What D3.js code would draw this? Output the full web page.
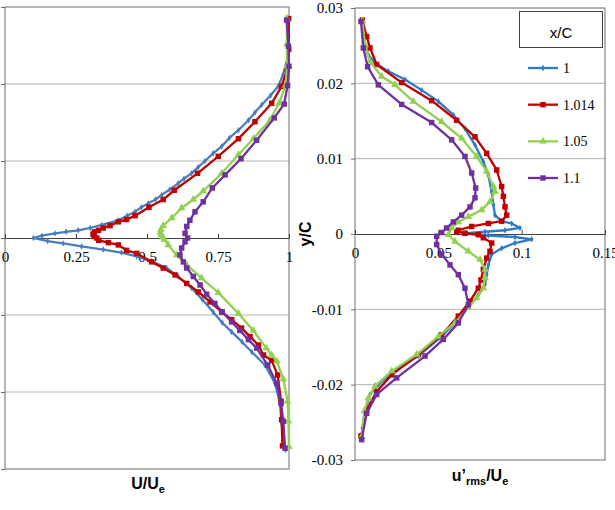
<!DOCTYPE html>
<html lang="en">
<head>
<meta charset="UTF-8">
<title>Wake profiles</title>
<style>
  body { margin: 0; background: #fff; }
  .title { font: bold 16px "Liberation Sans", Arial, sans-serif; fill: #000; }
  .grid { stroke: #b4b4b4; stroke-width: 1px; }
  .frame { fill: none; stroke: #6e6e6e; stroke-width: 1px; }
  .series { fill: none; stroke-width: 2.3px; stroke-linejoin: round; }
</style>
</head>
<body>
<svg width="615" height="510"></svg>
<script src="https://cdnjs.cloudflare.com/ajax/libs/d3/7.8.5/d3.min.js"></script>
<script>
// series labels (x/C stations)
const stations = ["1", "1.014", "1.05", "1.1"];
const colors = ["#4a7ebb", "#c00000", "#92d050", "#7030a0"];
const rmsBlue = "#2c7bcb";

const xTicksLeft = [0, 0.25, 0.5, 0.75, 1];
const xTicksRight = [0, 0.05, 0.1, 0.15];
const yTicks = [-0.03, -0.02, -0.01, 0, 0.01, 0.02, 0.03];

// mean velocity U/Ue vs y/C  : [U/Ue, y/C]
const meanX1 = [[0.999,0.0281],[0.999,0.0262],[0.998,0.0238],[0.979,0.0212],[0.962,0.0197],[0.935,0.0185],
  [0.904,0.0173],[0.88,0.0163],[0.857,0.0153],[0.822,0.014],[0.79,0.013],[0.763,0.0119],[0.733,0.011],
  [0.704,0.01],[0.68,0.0092],[0.657,0.0084],[0.63,0.0077],[0.61,0.0071],[0.58,0.0063],[0.552,0.0056],
  [0.53,0.005],[0.505,0.0045],[0.48,0.004],[0.458,0.0034],[0.43,0.0029],[0.399,0.0023],[0.34,0.0017],
  [0.3,0.0013],[0.258,0.001],[0.215,0.0008],[0.176,0.0006],[0.13,0.0003],[0.1,0],[0.15,-0.0004],
  [0.205,-0.0007],[0.27,-0.0011],[0.346,-0.0015],[0.41,-0.0019],[0.464,-0.0024],[0.515,-0.003],
  [0.569,-0.0039],[0.61,-0.005],[0.657,-0.0065],[0.695,-0.008],[0.733,-0.0096],[0.765,-0.011],
  [0.798,-0.0122],[0.835,-0.0135],[0.869,-0.0148],[0.915,-0.0165],[0.951,-0.0189],[0.968,-0.0215],
  [0.974,-0.024],[0.988,-0.0275]];
const meanX1014 = [[0.999,0.0285],[0.999,0.0245],[0.994,0.0219],[0.974,0.0197],[0.939,0.0175],[0.88,0.0151],
  [0.822,0.0129],[0.751,0.0106],[0.678,0.0084],[0.596,0.0062],[0.557,0.005],[0.507,0.004],[0.458,0.0029],
  [0.428,0.0024],[0.399,0.0021],[0.37,0.0016],[0.346,0.0013],[0.329,0.001],[0.315,0.0008],[0.31,0.0005],
  [0.314,0.0002],[0.323,0],[0.33,-0.0003],[0.364,-0.0006],[0.399,-0.0009],[0.428,-0.0016],[0.464,-0.002],
  [0.516,-0.0031],[0.557,-0.0039],[0.599,-0.0048],[0.64,-0.0059],[0.681,-0.007],[0.722,-0.0083],
  [0.763,-0.0096],[0.798,-0.0106],[0.833,-0.0117],[0.863,-0.0128],[0.892,-0.0139],[0.91,-0.0152],
  [0.939,-0.0159],[0.96,-0.0178],[0.972,-0.0212],[0.974,-0.0236],[0.977,-0.027]];
const meanX105 = [[0.992,0.0285],[0.993,0.0252],[0.993,0.0223],[0.988,0.0198],[0.965,0.0175],[0.933,0.0153],
  [0.874,0.0129],[0.822,0.0108],[0.763,0.0084],[0.698,0.0061],[0.663,0.005],[0.622,0.0039],[0.587,0.0026],
  [0.557,0.0016],[0.549,0.0011],[0.547,0.0007],[0.55,0.0004],[0.556,0.0001],[0.561,-0.0002],[0.575,-0.0009],
  [0.604,-0.0022],[0.64,-0.0035],[0.692,-0.0052],[0.751,-0.0071],[0.822,-0.0098],[0.874,-0.012],
  [0.92,-0.0143],[0.939,-0.0152],[0.957,-0.016],[0.98,-0.0183],[0.995,-0.0212],[0.998,-0.0238],[1.0,-0.0271]];
const meanX11 = [[0.992,0.0283],[0.998,0.0249],[1.0,0.0223],[0.995,0.0198],[0.983,0.0174],[0.948,0.0156],
  [0.886,0.0127],[0.831,0.0103],[0.775,0.0082],[0.73,0.0065],[0.698,0.0047],[0.669,0.0034],[0.651,0.0023],
  [0.64,0.0015],[0.634,0.0006],[0.643,0],[0.634,-0.0005],[0.622,-0.0013],[0.616,-0.0022],[0.628,-0.0031],
  [0.64,-0.0039],[0.663,-0.005],[0.687,-0.0061],[0.71,-0.0073],[0.739,-0.0085],[0.765,-0.0096],
  [0.798,-0.0109],[0.827,-0.012],[0.857,-0.0132],[0.886,-0.0143],[0.925,-0.0165],[0.957,-0.0189],
  [0.972,-0.0215],[0.98,-0.0238],[0.986,-0.0273]];

// rms fluctuation u'rms/Ue vs y/C : [u'/Ue, y/C]
const rmsX1 = [[0.004,0.0283],[0.005,0.0255],[0.008,0.0238],[0.012,0.0227],[0.02,0.0216],[0.03,0.0205],
  [0.04,0.0191],[0.05,0.0176],[0.059,0.0158],[0.066,0.014],[0.072,0.0118],[0.077,0.0096],[0.08,0.0078],
  [0.082,0.0056],[0.083,0.0039],[0.084,0.0025],[0.088,0.0017],[0.094,0.0014],[0.099,0.0008],[0.09,0.0005],
  [0.078,0.0003],[0.067,0.0001],[0.08,-0.0002],[0.096,-0.0004],[0.106,-0.0007],[0.096,-0.0012],
  [0.088,-0.0019],[0.082,-0.0027],[0.08,-0.0041],[0.079,-0.0054],[0.078,-0.0067],[0.074,-0.0081],
  [0.068,-0.0096],[0.06,-0.0118],[0.051,-0.0138],[0.038,-0.0162],[0.022,-0.0185],[0.014,-0.02],
  [0.009,-0.0213],[0.006,-0.0235],[0.0044,-0.0258],[0.004,-0.0272]];
const rmsX1014 = [[0.0044,0.0284],[0.007,0.0262],[0.009,0.0247],[0.013,0.0225],[0.028,0.0201],[0.046,0.0177],
  [0.061,0.0151],[0.072,0.0129],[0.079,0.0107],[0.085,0.0085],[0.088,0.0063],[0.089,0.005],[0.09,0.0036],
  [0.091,0.0025],[0.088,0.0017],[0.08,0.0014],[0.07,0.001],[0.062,0.0005],[0.061,0.0003],[0.066,0.0001],
  [0.074,-0.0001],[0.077,-0.0005],[0.082,-0.0012],[0.081,-0.0023],[0.079,-0.0032],[0.077,-0.0047],
  [0.0756,-0.0061],[0.074,-0.0072],[0.069,-0.0089],[0.062,-0.0109],[0.052,-0.0134],[0.038,-0.016],
  [0.022,-0.0187],[0.013,-0.0209],[0.007,-0.0233],[0.0036,-0.0268]];
const rmsX105 = [[0.0044,0.0283],[0.006,0.0251],[0.009,0.0229],[0.016,0.0209],[0.024,0.0198],[0.035,0.0176],
  [0.052,0.0149],[0.064,0.0127],[0.073,0.0103],[0.079,0.0083],[0.083,0.0063],[0.084,0.0056],[0.081,0.0043],
  [0.076,0.0032],[0.068,0.0023],[0.062,0.0016],[0.058,0.0008],[0.056,-0.0001],[0.06,-0.001],[0.068,-0.0023],
  [0.075,-0.0034],[0.078,-0.0047],[0.078,-0.0058],[0.077,-0.0072],[0.073,-0.0085],[0.068,-0.0098],
  [0.06,-0.0118],[0.05,-0.0136],[0.037,-0.016],[0.022,-0.0182],[0.012,-0.0202],[0.008,-0.0218],
  [0.0056,-0.0235],[0.004,-0.0269]];
const rmsX11 = [[0.0036,0.0282],[0.005,0.0247],[0.0076,0.0222],[0.014,0.0198],[0.028,0.0172],[0.046,0.0148],
  [0.058,0.0125],[0.066,0.0103],[0.07,0.0081],[0.0724,0.0061],[0.072,0.0048],[0.069,0.0036],[0.064,0.0025],
  [0.059,0.0016],[0.055,0.0008],[0.052,0.0002],[0.049,-0.0003],[0.049,-0.0014],[0.052,-0.0027],
  [0.057,-0.0041],[0.062,-0.0054],[0.066,-0.0072],[0.068,-0.0094],[0.062,-0.0118],[0.053,-0.014],
  [0.042,-0.0162],[0.025,-0.0191],[0.013,-0.0213],[0.007,-0.0238],[0.004,-0.0273]];

const meanSeries = [meanX1, meanX1014, meanX105, meanX11];
const rmsSeries = [rmsX1, rmsX1014, rmsX105, rmsX11];
const symbols = [d3.symbolDiamond, d3.symbolSquare, d3.symbolTriangle, d3.symbolSquare];
const symSizes = [12, 30, 26, 30];

const tickFont = "15px 'Liberation Serif', 'Times New Roman', serif";

const svg = d3.select("svg");

const fmtY = d => d === 0 ? "0" : String(+d.toFixed(2));
const fmtX = d => d === 0 ? "0" : String(+d.toFixed(2));

function panel(x, y, series, xTicks, showYLabels, blue) {
  const [x0, x1] = x.range(), [y1, y0] = y.range();
  const g = svg.append("g");

  // horizontal gridlines
  g.selectAll("line.grid").data(yTicks.filter(t => t !== 0 && Math.abs(t) < 0.03)).join("line")
    .attr("class", "grid")
    .attr("x1", x0).attr("x2", x1)
    .attr("y1", d => y(d)).attr("y2", d => y(d));

  g.append("rect").attr("class", "frame")
    .attr("x", x0).attr("y", y0).attr("width", x1 - x0).attr("height", y1 - y0);

  // y axis on left edge
  const ya = d3.axisLeft(y).tickValues(yTicks).tickSize(4).tickPadding(8)
    .tickFormat(showYLabels ? fmtY : () => "");
  g.append("g").attr("transform", `translate(${x0},0)`).call(ya)
    .call(s => s.select(".domain").remove())
    .call(s => s.selectAll(".tick line").attr("stroke", "#6e6e6e"))
    .call(s => s.selectAll("text").style("font", tickFont).attr("fill", "#000"));

  // x axis along y = 0
  const xa = d3.axisBottom(x).tickValues(xTicks).tickSize(-4).tickPadding(13).tickFormat(fmtX);
  g.append("g").attr("transform", `translate(0,${y(0)})`).call(xa)
    .call(s => s.select(".domain").attr("stroke", "#404040"))
    .call(s => s.selectAll(".tick line").attr("stroke", "#404040"))
    .call(s => s.selectAll("text").style("font", tickFont).attr("fill", "#000"));

  const line = d3.line().x(d => x(d[0])).y(d => y(d[1]));
  series.forEach((data, i) => {
    const c = (i === 0 && blue) ? blue : colors[i];
    g.append("path").attr("class", "series").attr("stroke", c)
      .attr("stroke-width", i === 0 ? 2 : 2.3).attr("d", line(data));
    g.selectAll(null).data(data).join("path")
      .attr("transform", d => `translate(${x(d[0])},${y(d[1])})`)
      .attr("d", d3.symbol(symbols[i], symSizes[i]))
      .attr("fill", c);
  });
}

// left: mean velocity
const xL = d3.scaleLinear([0, 1], [5, 289]);
const yL = d3.scaleLinear([-0.03, 0.03], [469, 7]);
panel(xL, yL, meanSeries, xTicksLeft, false, null);

// right: rms
const xR = d3.scaleLinear([0, 0.15], [355, 605]);
const yR = d3.scaleLinear([-0.03, 0.03], [460, 8]);
panel(xR, yR, rmsSeries, xTicksRight, true, rmsBlue);

// axis titles
const tL = svg.append("text").attr("class", "title").attr("x", 148).attr("y", 489).attr("text-anchor", "middle");
tL.append("tspan").text("U/U");
tL.append("tspan").attr("dy", 4).attr("font-size", 11).text("e");

const tR = svg.append("text").attr("class", "title").attr("x", 480).attr("y", 481).attr("text-anchor", "middle");
tR.append("tspan").text("u\u2019");
tR.append("tspan").attr("dy", 4).attr("font-size", 11).text("rms");
tR.append("tspan").attr("dy", -4).text("/U");
tR.append("tspan").attr("dy", 4).attr("font-size", 11).text("e");

svg.append("text").attr("class", "title")
  .attr("transform", "translate(311,234) rotate(-90)")
  .attr("text-anchor", "middle").text("y/C");

// legend
const lg = svg.append("g");
lg.append("rect").attr("x", 519.5).attr("y", 11.5).attr("width", 83).attr("height", 36)
  .attr("fill", "#fff").attr("stroke", "#404040");
lg.append("text").attr("x", 561).attr("y", 38).attr("text-anchor", "middle")
  .style("font", "15px 'Liberation Sans', Arial, sans-serif").text("x/C");
const legY = d3.scalePoint().domain(stations).range([68, 178]);
stations.forEach((s, i) => {
  const c = i === 0 ? rmsBlue : colors[i];
  const yy = legY(s);
  lg.append("line").attr("x1", 528).attr("x2", 558).attr("y1", yy).attr("y2", yy)
    .attr("stroke", c).attr("stroke-width", 2.3);
  lg.append("path").attr("transform", `translate(543,${yy})`)
    .attr("d", d3.symbol(symbols[i], symSizes[i])).attr("fill", c);
  lg.append("text").attr("x", 563).attr("y", yy + 5)
    .style("font", "14px 'Liberation Serif', 'Times New Roman', serif").text(s);
});
</script>
</body>
</html>
